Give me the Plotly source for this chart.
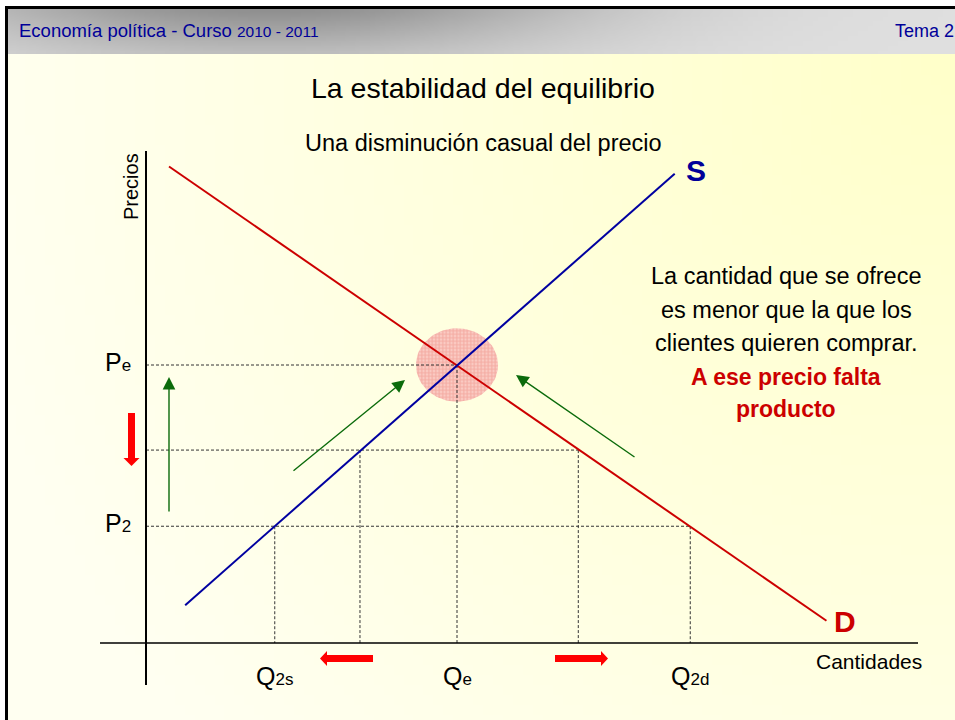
import base64
import struct
import zlib

import numpy as np
import plotly.graph_objects as go

# ---------------- data (economic units) ----------------
demand_q = [0.37, 10.94]
demand_p = [8.57, 0.40]
supply_q = [0.63, 8.50]
supply_p = [0.68, 8.44]

price_levels = [5.0, 3.47, 2.10]          # Pe, intermediate, P2
supply_qty = [5.0, 3.44, 2.07]            # quantity offered at each price
demand_qty = [5.0, 6.95, 8.75]            # quantity demanded at each price

q_tick_vals = [2.07, 5.0, 8.75]
q_tick_text = ["Q<span style='font-size:17px'>2s</span>",
               "Q<span style='font-size:17px'>e</span>",
               "Q<span style='font-size:17px'>2d</span>"]
p_tick_vals = [5.0, 2.10]
p_tick_text = ["P<span style='font-size:17px'>e</span>",
               "P<span style='font-size:17px'>2</span>"]

eq_q, eq_p = 5.0, 5.0

right_lines = ["La cantidad que se ofrece",
               "es menor que la que los",
               "clientes quieren comprar."]
right_bold = ["A ese precio falta", "producto"]

# ---------------- layout helpers (pixel -> axis units) ----------------
W, H = 955, 720
X0PX, Y0PX = 146, 643
SX, SY = 62.2, 55.6


def dx(px):
    return (px - X0PX) / SX


def dy(py):
    return (Y0PX - py) / SY


def fx(px):
    return px / W


def fy(py):
    return 1 - py / H


def png_uri(w, h, fn):
    raw = bytearray()
    for j in range(h):
        raw.append(0)
        for i in range(w):
            raw += bytes(fn(i, j))

    def chunk(tag, data):
        return (struct.pack('>I', len(data)) + tag + data +
                struct.pack('>I', zlib.crc32(tag + data) & 0xffffffff))

    png = (b'\x89PNG\r\n\x1a\n' +
           chunk(b'IHDR', struct.pack('>IIBBBBB', w, h, 8, 2, 0, 0, 0)) +
           chunk(b'IDAT', zlib.compress(bytes(raw), 9)) +
           chunk(b'IEND', b''))
    return 'data:image/png;base64,' + base64.b64encode(png).decode()


def bg_fn(i, j):
    px = (i + 0.5) * W / 96
    py = (j + 0.5) * H / 72
    d = np.hypot(px - 955, py - 60)
    t = min(1.0, d / 1000)
    b = int(202 + (241 - 202) * t)
    return (255, 255, b)


def header_fn(i, j):
    px = 8 + (i + 0.5) * (W - 8) / 190
    yf = (j + 0.5) / 9
    dark = np.exp(-((px - 270) / 320) ** 2)
    g = int(224 - 82 * dark * (1 - 0.6 * yf))
    return (g, g, g)


bg_img = png_uri(96, 72, bg_fn)
hdr_img = png_uri(190, 9, header_fn)

FONT = "Liberation Sans, Arial, sans-serif"

fig = go.Figure()

# highlight around equilibrium
theta = np.linspace(0, 2 * np.pi, 90)
fig.add_trace(go.Scatter(
    x=eq_q + 0.66 * np.cos(theta), y=eq_p + 0.66 * np.sin(theta),
    mode="lines", fill="toself", line=dict(width=0),
    fillpattern=dict(shape="+", bgcolor="#FACBC3", fgcolor="#EE877D",
                     size=3.5, solidity=0.5),
    hoverinfo="skip"))

# dashed guide lines
gx, gy = [], []
for p, qs, qd in zip(price_levels, supply_qty, demand_qty):
    gx += [0, max(qs, qd), None]
    gy += [p, p, None]
    for q in sorted(set([qs, qd])):
        gx += [q, q, None]
        gy += [p, 0, None]
fig.add_trace(go.Scatter(x=gx, y=gy, mode="lines",
                         line=dict(color="#333333", width=1, dash="3px,2px"),
                         hoverinfo="skip"))

# curves
fig.add_trace(go.Scatter(x=demand_q, y=demand_p, mode="lines",
                         line=dict(color="#CC0000", width=2), hoverinfo="skip"))
fig.add_trace(go.Scatter(x=supply_q, y=supply_p, mode="lines",
                         line=dict(color="#0000A0", width=2), hoverinfo="skip"))

shapes = []
# white outer margins & black frame
shapes.append(dict(type="rect", xref="paper", yref="paper", x0=0, x1=1,
                   y0=fy(6), y1=1, fillcolor="white", line_width=0, layer="below"))
shapes.append(dict(type="rect", xref="paper", yref="paper", x0=0, x1=fx(5),
                   y0=0, y1=1, fillcolor="white", line_width=0, layer="below"))
shapes.append(dict(type="rect", xref="paper", yref="paper", x0=fx(5), x1=1,
                   y0=fy(9), y1=fy(6), fillcolor="black", line_width=0))
shapes.append(dict(type="rect", xref="paper", yref="paper", x0=fx(5), x1=fx(8),
                   y0=0, y1=fy(6), fillcolor="black", line_width=0))
# axes
shapes.append(dict(type="line", xref="x", yref="y", x0=0, x1=0,
                   y0=dy(685), y1=dy(151), line=dict(color="black", width=2)))
shapes.append(dict(type="line", xref="x", yref="y", x0=dx(100), x1=dx(918),
                   y0=0, y1=0, line=dict(color="black", width=1.6)))


def poly(pts):
    s = "M " + " L ".join(f"{dx(a):.4f},{dy(b):.4f}" for a, b in pts) + " Z"
    return dict(type="path", xref="x", yref="y", path=s,
                fillcolor="#FF0000", line_width=0)


# red block arrows
shapes.append(poly([(128, 413), (135, 413), (135, 458), (139.5, 458),
                    (131.5, 466), (123.5, 458), (128, 458)]))
shapes.append(poly([(373, 655), (373, 662), (327, 662), (327, 666),
                    (320, 658.5), (327, 651), (327, 655)]))
shapes.append(poly([(555, 655), (555, 662), (601, 662), (601, 666),
                    (608, 658.5), (601, 651), (601, 655)]))

ann = []


def text(x, y, t, size, color="black", bold=False, xanchor="center",
         yanchor="middle", textangle=0, xref="x", yref="y"):
    if bold:
        t = "<b>" + t + "</b>"
    ann.append(dict(x=x, y=y, xref=xref, yref=yref, text=t, showarrow=False,
                    xanchor=xanchor, yanchor=yanchor, textangle=textangle,
                    font=dict(family=FONT, size=size, color=color)))


# header
text(fx(17), fy(31),
     "Economía política - Curso <span style='font-size:15.5px'>2010 - 2011</span>",
     18.5, color="#000099", xanchor="left", xref="paper", yref="paper")
text(fx(893), fy(31), "Tema 2", 18, color="#000099", xanchor="left",
     xref="paper", yref="paper")

# titles
text(fx(483), fy(88), "La estabilidad del equilibrio", 28.5, xref="paper", yref="paper")
text(fx(483), fy(143), "Una disminución casual del precio", 23.5, xref="paper", yref="paper")

# axis titles
text(dx(131), dy(187), "Precios", 20, textangle=-90)
text(dx(869), dy(661), "Cantidades", 21)

# curve labels
text(dx(696), dy(170), "S", 30, color="#000099", bold=True)
text(dx(845), dy(621), "D", 30, color="#CC0000", bold=True)

# tick-like labels
for v, t in zip(q_tick_vals, q_tick_text):
    text(v, dy(676), t, 25)
for v, t in zip(p_tick_vals, p_tick_text):
    text(dx(133), v + 0.05, t, 25, xanchor="right")

# explanation
for k, line in enumerate(right_lines):
    text(dx(786), dy([276, 310, 343][k]), line, 23.5)
for k, line in enumerate(right_bold):
    text(dx(786), dy([377, 409][k]), line, 23, color="#CC0000", bold=True)

# green arrows
for (tx, ty), (hx, hy) in [((169, 513), (169, 377)),
                           ((292, 472), (405, 380)),
                           ((636, 458), (516, 375))]:
    ann.append(dict(x=dx(hx), y=dy(hy), ax=dx(tx), ay=dy(ty), xref="x", yref="y",
                    axref="x", ayref="y", text="", showarrow=True, arrowhead=2,
                    arrowsize=1.8, arrowwidth=1.4, arrowcolor="#0B6B0B",
                    standoff=0, startstandoff=0))

fig.update_layout(
    width=W, height=H, autosize=False,
    margin=dict(l=0, r=0, t=0, b=0, pad=0),
    paper_bgcolor="white", plot_bgcolor="rgba(0,0,0,0)",
    showlegend=False,
    xaxis=dict(range=[dx(0), dx(W)], visible=False, fixedrange=True),
    yaxis=dict(range=[dy(H), dy(0)], visible=False, fixedrange=True),
    shapes=shapes, annotations=ann,
    images=[
        dict(source=bg_img, xref="paper", yref="paper", x=0, y=1, sizex=1, sizey=1,
             sizing="stretch", xanchor="left", yanchor="top", layer="below"),
        dict(source=hdr_img, xref="paper", yref="paper", x=fx(8), y=fy(9),
             sizex=1 - fx(8), sizey=45 / H, sizing="stretch",
             xanchor="left", yanchor="top", layer="below"),
    ],
)

fig.write_html("out.html", config={"displayModeBar": False},
               post_script="document.body.style.margin='0';"
                           "document.body.style.overflow='hidden';")
